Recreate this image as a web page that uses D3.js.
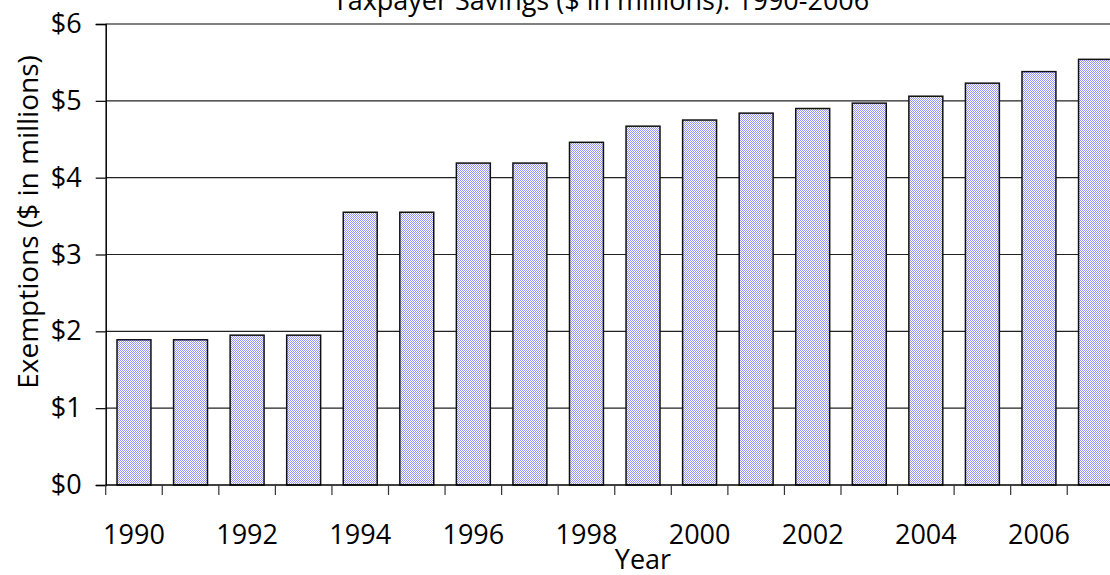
<!DOCTYPE html>
<html>
  <head>
    <title>Taxpayer Savings</title>
    <script src="https://cdn.jsdelivr.net/npm/d3@7"></script>
    <style>
      body { margin: 0; background: #fff; }
      text { font-family: "Open Sans", sans-serif; fill: #000; }
    </style>
  </head>
  <body>
    <svg width="1110" height="575" id="mainsvg"></svg>
    <script>
      const years = ['1990', '1991', '1992', '1993', '1994', '1995', '1996', '1997', '1998',
                     '1999', '2000', '2001', '2002', '2003', '2004', '2005', '2006', '2007'];
      const savings = [1.89, 1.89, 1.95, 1.95, 3.55, 3.55, 4.19, 4.19, 4.46,
                       4.67, 4.75, 4.84, 4.90, 4.97, 5.06, 5.23, 5.38, 5.54];
      const yTicks = [0, 1, 2, 3, 4, 5, 6];
      const xLabels = ['1990', '1992', '1994', '1996', '1998', '2000', '2002', '2004', '2006'];

      const svg = d3.select('#mainsvg');
      // the plot runs past the right edge of the picture, as in the original
      const plotLeft = 105.7, plotRight = 1123.8, plotTop = 24, plotBottom = 485;

      const xScale = d3.scaleBand().domain(years).range([plotLeft, plotRight])
        .paddingInner(0.4).paddingOuter(0.2);
      const xEdge = d3.scaleBand().domain(years).range([plotLeft, plotRight]);
      const yScale = d3.scaleLinear().domain([0, 6]).range([plotBottom, plotTop]);

      // checkered fill
      const pat = svg.append('defs').append('pattern')
        .attr('id', 'checker').attr('patternUnits', 'userSpaceOnUse')
        .attr('width', 2).attr('height', 2);
      pat.append('rect').attr('width', 2).attr('height', 2).attr('fill', '#ffffff');
      pat.append('rect').attr('width', 1).attr('height', 1).attr('fill', '#9494fa');
      pat.append('rect').attr('x', 1).attr('y', 1).attr('width', 1).attr('height', 1).attr('fill', '#9494fa');

      // gridlines
      svg.append('g').selectAll('line').data(yTicks.slice(1))
        .join('line')
        .attr('x1', plotLeft).attr('x2', 1110)
        .attr('y1', d => yScale(d)).attr('y2', d => yScale(d))
        .attr('stroke', d => d === 6 ? '#808080' : '#222')
        .attr('stroke-width', d => d === 6 ? 2 : 1.2);

      // bars
      svg.append('g').selectAll('rect').data(savings)
        .join('rect')
        .attr('x', (d, i) => xScale(years[i]))
        .attr('y', d => yScale(d))
        .attr('width', xScale.bandwidth())
        .attr('height', d => plotBottom - yScale(d))
        .attr('fill', 'url(#checker)')
        .attr('stroke', '#111')
        .attr('stroke-width', 1.5);

      // y axis
      const yAxis = d3.axisLeft(yScale).tickValues(yTicks)
        .tickSize(10).tickPadding(14).tickFormat(d => '$' + d);
      const yg = svg.append('g').attr('transform', `translate(${plotLeft},0)`).call(yAxis);
      yg.select('.domain').attr('stroke', '#000').attr('stroke-width', 1.5);
      yg.selectAll('.tick line').attr('stroke', '#000').attr('stroke-width', 1.2);
      yg.selectAll('.tick text').attr('font-size', 27).attr('font-family', '"Open Sans", sans-serif');

      // x axis: line, boundary ticks, labels at band centres
      svg.append('line').attr('x1', plotLeft).attr('x2', 1110)
        .attr('y1', plotBottom).attr('y2', plotBottom)
        .attr('stroke', '#000').attr('stroke-width', 1.5);
      svg.append('g').selectAll('line').data(years)
        .join('line')
        .attr('x1', d => xEdge(d)).attr('x2', d => xEdge(d))
        .attr('y1', plotBottom).attr('y2', plotBottom + 10)
        .attr('stroke', '#333').attr('stroke-width', 1.2);

      const xAxis = d3.axisBottom(xScale).tickValues(xLabels).tickSize(0).tickPadding(40);
      const xg = svg.append('g').attr('transform', `translate(0,${plotBottom})`).call(xAxis);
      xg.select('.domain').remove();
      xg.selectAll('.tick text').attr('font-size', 27).attr('font-family', '"Open Sans", sans-serif');

      // titles
      svg.append('text').attr('x', 601).attr('y', 10)
        .attr('text-anchor', 'middle').attr('font-size', 27)
        .text('Taxpayer Savings ($ in millions): 1990-2006');
      svg.append('text').attr('x', 643).attr('y', 569)
        .attr('text-anchor', 'middle').attr('font-size', 27)
        .text('Year');
      svg.append('text')
        .attr('transform', 'translate(38,222) rotate(-90)')
        .attr('text-anchor', 'middle').attr('font-size', 28)
        .text('Exemptions ($ in millions)');
    </script>
  </body>
</html>
